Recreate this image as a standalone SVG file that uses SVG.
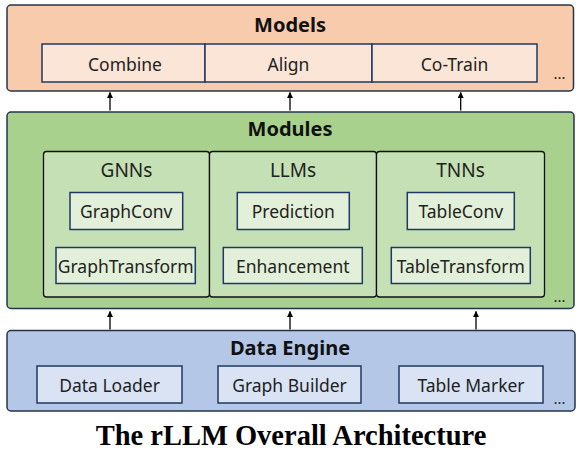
<svg xmlns="http://www.w3.org/2000/svg" width="582" height="451" viewBox="0 0 582 451">
<defs>
<marker id="ah" viewBox="0 0 10 10" refX="9" refY="5" markerWidth="6" markerHeight="6" markerUnits="userSpaceOnUse" orient="auto">
<path d="M0,0 L10,5 L0,10 z" fill="#000"/>
</marker>
<style>
.outer{stroke:#26344a;stroke-width:1.5}
.inner{stroke:#1f3864;stroke-width:1.5}
.sub{fill:#c5e0b4;stroke:#111;stroke-width:1.3}
.lbl{font-family:"Noto Sans","Liberation Sans",sans-serif;font-size:17.5px;fill:#222;text-anchor:middle}
.hd{font-family:"Noto Sans","Liberation Sans",sans-serif;font-size:20px;font-weight:bold;fill:#111;text-anchor:middle}
.sh{font-family:"Noto Sans","Liberation Sans",sans-serif;font-size:19px;fill:#222;text-anchor:middle}
.dots{font-family:"Noto Sans","Liberation Sans",sans-serif;font-size:15px;fill:#222;text-anchor:middle}
.arr{stroke:#000;stroke-width:1.3;fill:none;marker-end:url(#ah)}
</style>
</defs>
<rect width="582" height="451" fill="#fff"/>

<g id="models">
<rect class="outer" x="7" y="5" width="566.5" height="86" rx="4" fill="#f8cbad"/>
<text class="hd" x="290" y="31.5">Models</text>
<g id="combine"><rect class="inner" x="42" y="44" width="163" height="38" fill="#fbe5d6"/><text class="lbl" x="125" y="71">Combine</text></g>
<g id="align"><rect class="inner" x="205" y="44" width="167" height="38" fill="#fbe5d6"/><text class="lbl" x="288.5" y="71">Align</text></g>
<g id="cotrain"><rect class="inner" x="372" y="44" width="165" height="38" fill="#fbe5d6"/><text class="lbl" x="454.5" y="71">Co-Train</text></g>
<text class="dots" x="559.5" y="79">...</text>
</g>

<g id="modules">
<rect class="outer" x="7" y="112" width="567" height="196.5" rx="4" fill="#a9d18e"/>
<text class="hd" x="290" y="136">Modules</text>
<g id="gnns">
<rect class="sub" x="43.5" y="151.5" width="166" height="145.5" rx="3"/>
<text class="sh" x="126.5" y="176.5">GNNs</text>
<g id="graphconv"><rect class="inner" x="70" y="192.5" width="112.7" height="37" fill="#e2f0d9"/><text class="lbl" x="126.3" y="217.5">GraphConv</text></g>
<g id="graphtransform"><rect class="inner" x="56" y="247.5" width="139.3" height="36" fill="#e2f0d9"/><text class="lbl" x="125.7" y="272.5">GraphTransform</text></g>
</g>
<g id="llms">
<rect class="sub" x="209.5" y="151.5" width="167" height="145.5" rx="3"/>
<text class="sh" x="293" y="176.5">LLMs</text>
<g id="prediction"><rect class="inner" x="237.3" y="192.5" width="112" height="37" fill="#e2f0d9"/><text class="lbl" x="293.3" y="217.5">Prediction</text></g>
<g id="enhancement"><rect class="inner" x="223.3" y="247.5" width="139" height="36" fill="#e2f0d9"/><text class="lbl" x="292.8" y="272.5">Enhancement</text></g>
</g>
<g id="tnns">
<rect class="sub" x="376.5" y="151.5" width="168" height="145.5" rx="3"/>
<text class="sh" x="460.5" y="176.5">TNNs</text>
<g id="tableconv"><rect class="inner" x="407.3" y="192.5" width="107" height="37" fill="#e2f0d9"/><text class="lbl" x="460.8" y="217.5">TableConv</text></g>
<g id="tabletransform"><rect class="inner" x="391.3" y="247.5" width="139" height="36" fill="#e2f0d9"/><text class="lbl" x="460.8" y="272.5">TableTransform</text></g>
</g>
<text class="dots" x="559.5" y="302">...</text>
</g>

<g id="data-engine">
<rect class="outer" x="7" y="330.5" width="568" height="80.5" rx="4" fill="#b4c7e7"/>
<text class="hd" x="290" y="355">Data Engine</text>
<g id="dataloader"><rect class="inner" x="37" y="366" width="145" height="37" fill="#dae3f3"/><text class="lbl" x="109.5" y="391.5">Data Loader</text></g>
<g id="graphbuilder"><rect class="inner" x="218" y="366" width="143" height="37" fill="#dae3f3"/><text class="lbl" x="289.5" y="391.5">Graph Builder</text></g>
<g id="tablemarker"><rect class="inner" x="399" y="366" width="144" height="37" fill="#dae3f3"/><text class="lbl" x="471" y="391.5">Table Marker</text></g>
<text class="dots" x="559.5" y="404">...</text>
</g>

<g id="connectors">
<line class="arr" x1="110" y1="110.5" x2="110" y2="92.5"/>
<line class="arr" x1="290" y1="110.5" x2="290" y2="92.5"/>
<line class="arr" x1="460.7" y1="110.5" x2="460.7" y2="92.5"/>
<line class="arr" x1="110" y1="329.5" x2="110" y2="311.5"/>
<line class="arr" x1="290" y1="329.5" x2="290" y2="311.5"/>
<line class="arr" x1="476" y1="329.5" x2="476" y2="311.5"/>
</g>

<text x="291" y="445" font-family="'Liberation Serif','Times New Roman',serif" font-size="28.5" font-weight="bold" text-anchor="middle" fill="#000">The rLLM Overall Architecture</text>
</svg>
